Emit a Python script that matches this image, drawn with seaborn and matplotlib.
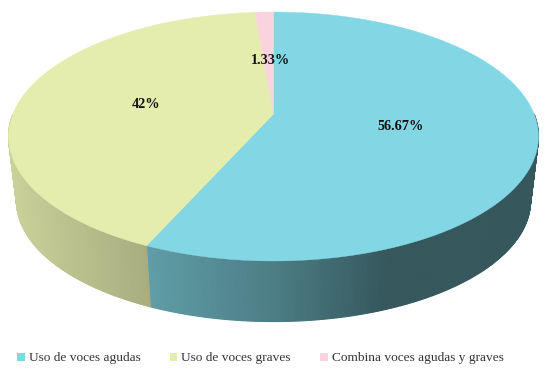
import matplotlib
matplotlib.use("Agg")
import matplotlib.pyplot as plt
from matplotlib.colors import to_rgb
from matplotlib.patches import Patch
import numpy as np
import seaborn as sns

categories = ["Uso de voces agudas", "Uso de voces graves", "Combina voces agudas y graves"]
shares = [56.67, 42, 1.33]
value_labels = ["56.67%", "42%", "1.33%"]

colors = ["#83d7e4", "#e5edae", "#fbd3de"]
label_pos = [(400.5, 126), (146, 104), (270, 60)]

sns.set_theme(style="white")
plt.rcParams["font.family"] = ["Liberation Serif"]

# pie geometry in pixels, k gives the perspective of the tilted disc
cx, cy = 273.5, 114
a, b, k = 260.6, 120.4, 0.1807
depth = 65
shrink_bottom = 0.97


def rim(t, drop=0.0, shrink=1.0):
    u, v = np.sin(t), np.cos(t)
    w = 1 + k * v
    return cx + shrink * a * u / w, cy - shrink * b * v / w + drop


fig = plt.figure(figsize=(5.5, 3.74), dpi=100)
ax = fig.add_axes([0, 0, 1, 1])
ax.set_xlim(0, 550)
ax.set_ylim(374, 0)
ax.axis("off")

edges = np.cumsum([0] + shares) / 100 * 2 * np.pi

# side wall first, shaded by x position, top faces go over it
for i, col in enumerate(colors):
    base = np.array(to_rgb(col))
    n = max(int((edges[i + 1] - edges[i]) * 120), 3)
    ts = np.linspace(edges[i], edges[i + 1], n)
    for t0, t1 in zip(ts[:-1], ts[1:]):
        # back of the wall is hidden by the top
        if np.cos((t0 + t1) / 2) > 0:
            continue
        x0, y0 = rim(t0)
        x1, y1 = rim(t1)
        x2, y2 = rim(t1, depth, shrink_bottom)
        x3, y3 = rim(t0, depth, shrink_bottom)
        shade = np.interp((x0 + x1) / 2, [8, 147, 275, 385, 538], [0.88, 0.73, 0.58, 0.41, 0.41])
        ax.fill([x0, x1, x2, x3], [y0, y1, y2, y3], color=tuple(base * shade), lw=0.8, zorder=2)

for i, col in enumerate(colors):
    ts = np.linspace(edges[i], edges[i + 1], 200)
    x, y = rim(ts)
    ax.fill(np.r_[cx, x], np.r_[cy, y], color=col, lw=0.3, zorder=3)

for txt, (tx, ty) in zip(value_labels, label_pos):
    ax.text(tx, ty, txt, ha="center", va="center", fontsize=10.3, fontweight="bold",
            color="#111111", zorder=4)

handles = [Patch(facecolor=c, edgecolor="none") for c in colors]
ax.legend(handles, categories, ncol=3, loc="center", bbox_to_anchor=(260.5, 358.5),
          bbox_transform=ax.transData, frameon=False, fontsize=9.65,
          handlelength=0.55, handleheight=0.6, handletextpad=0.3, columnspacing=2.2,
          labelcolor="#333333")

fig.savefig("out.png", dpi=100)
